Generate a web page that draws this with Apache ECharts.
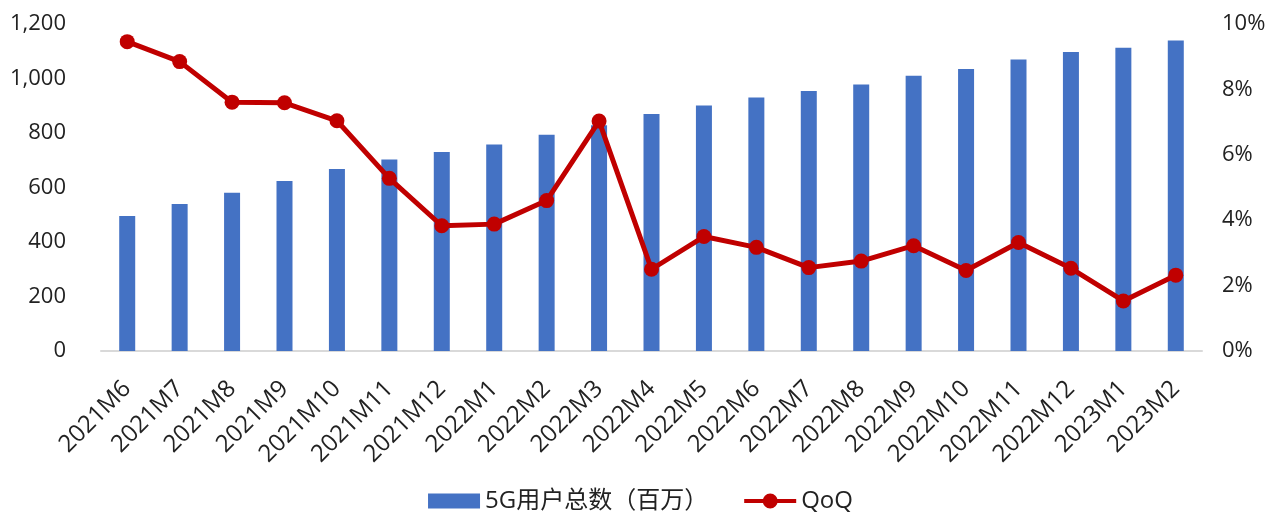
<!DOCTYPE html>
<html>
<head>
<meta charset="utf-8">
<script src="https://cdn.jsdelivr.net/npm/echarts@6/dist/echarts.min.js"></script>
<style>
html,body{margin:0;padding:0;background:#fff;}
#chart{width:1281px;height:512px;}
</style>
</head>
<body>
<div id="chart"></div>
<script>
const categories = ['2021M6','2021M7','2021M8','2021M9','2021M10','2021M11','2021M12','2022M1','2022M2','2022M3','2022M4','2022M5','2022M6','2022M7','2022M8','2022M9','2022M10','2022M11','2022M12','2023M1','2023M2'];
const users5G = [495,539,581,624,668,703,730,758,794,828,870,901,930,954,978,1010,1035,1070,1097,1113,1139];
const qoq = [9.46,8.85,7.61,7.59,7.04,5.28,3.83,3.88,4.60,7.03,2.50,3.50,3.17,2.55,2.75,3.22,2.46,3.32,2.53,1.53,2.32];
const leftTicks = {min:0,max:1200,interval:200};
const rightTicks = {min:0,max:10,interval:2};

const chart = echarts.init(document.getElementById('chart'));
const axisFont = {fontFamily:'Open Sans', fontSize:22, color:'#222'};
const lineIcon = 'path://M0,5.5h20v4h-20z M32,5.5h20v4h-20z M18.5,7.5a7.5,7.5 0 1,1 15,0a7.5,7.5 0 1,1 -15,0z';
chart.setOption({
  animation:false,
  backgroundColor:'#fff',
  grid:{left:101,right:79,top:24,bottom:161},
  legend:{
    top:484, left:'center', itemWidth:52, itemHeight:15, itemGap:36,
    textStyle:{fontFamily:'Open Sans, Noto Sans CJK SC', fontSize:24, color:'#222'},
    data:[{name:'5G用户总数（百万）', icon:'rect', itemStyle:{color:'#4472C4'}},
          {name:'QoQ', icon:lineIcon, itemStyle:{color:'#C00000'}}]
  },
  xAxis:{
    type:'category', data:categories,
    axisLine:{lineStyle:{color:'#D9D9D9', width:2}},
    axisTick:{show:false},
    axisLabel:{rotate:45, margin:34, interval:0, fontFamily:'Open Sans', fontSize:24, color:'#222'}
  },
  yAxis:[
    {type:'value', min:leftTicks.min, max:leftTicks.max, interval:leftTicks.interval,
     axisLine:{show:false}, axisTick:{show:false}, splitLine:{show:false},
     axisLabel:Object.assign({margin:35, formatter:v=>v.toLocaleString('en-US')}, axisFont)},
    {type:'value', min:rightTicks.min, max:rightTicks.max, interval:rightTicks.interval,
     axisLine:{show:false}, axisTick:{show:false}, splitLine:{show:false},
     axisLabel:Object.assign({margin:20, formatter:'{value}%'}, axisFont)}
  ],
  series:[
    {name:'5G用户总数（百万）', type:'bar', data:users5G, barWidth:16, itemStyle:{color:'#4472C4'}},
    {name:'QoQ', type:'line', yAxisIndex:1, data:qoq, symbol:'circle', symbolSize:15,
     lineStyle:{color:'#C00000', width:5}, itemStyle:{color:'#C00000'}}
  ]
});
</script>
</body>
</html>
